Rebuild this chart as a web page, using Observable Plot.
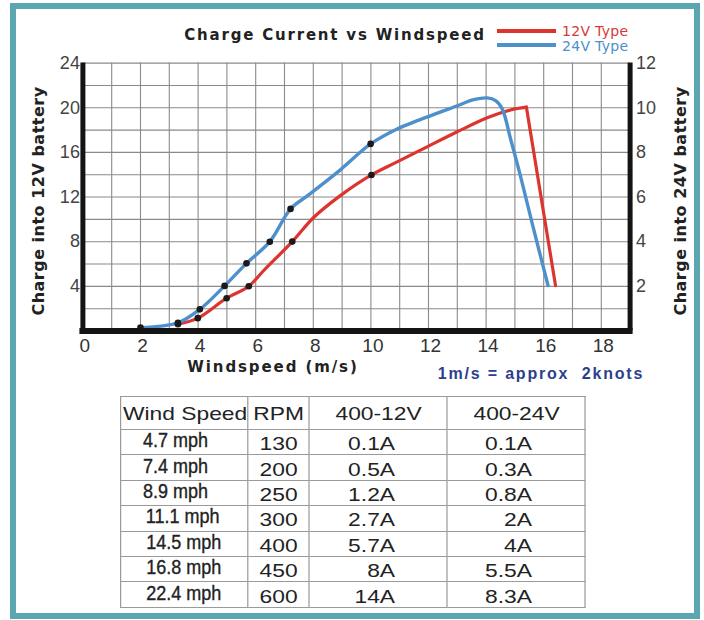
<!DOCTYPE html>
<html>
<head>
<meta charset="utf-8">
<script src="https://cdn.jsdelivr.net/npm/d3@7"></script>
<script src="https://cdn.jsdelivr.net/npm/@observablehq/plot@0.6"></script>
<style>
  html, body { margin: 0; padding: 0; background: #fff; }
  body { width: 704px; height: 620px; position: relative; overflow: hidden; }
  #chart { position: absolute; left: 0; top: 0; }
  .frame { position: absolute; left: 10px; top: 3px; width: 690px; height: 616px; box-sizing: border-box;
           border: 6px solid #5ba6b0; z-index: 5; pointer-events: none; }
  .txt { position: absolute; white-space: nowrap; transform: translate(-50%, -50%); z-index: 3; }
  .comic { font-family: "DejaVu Sans", sans-serif; color: #222; }
  .title { left: 335px; top: 35px; font-size: 15px; font-weight: bold; letter-spacing: 1.8px; }
  .ylab { font-size: 16px; font-weight: bold; letter-spacing: 0.5px; }
  .ylab.l { left: 38px; top: 201px; transform: translate(-50%, -50%) rotate(-90deg); }
  .ylab.r { left: 680px; top: 201px; transform: translate(-50%, -50%) rotate(-90deg); }
  .xlab { left: 273px; top: 367px; font-size: 15px; font-weight: bold; letter-spacing: 1.9px; }
  .note { left: 541px; top: 374px; font-family: "Liberation Sans", Arial, sans-serif; font-size: 16px;
          font-weight: bold; color: #2c3f8e; letter-spacing: 1.8px; }
  .legline { position: absolute; left: 497px; width: 59px; height: 4px; z-index: 3; }
  .legtxt { position: absolute; left: 562px; font-family: "DejaVu Sans", sans-serif; font-size: 14px;
            transform: translateY(-50%); z-index: 3; white-space: nowrap; letter-spacing: 0.3px; }
  .tablewrap { position: absolute; left: 120px; top: 396px; transform: scaleX(1.2); transform-origin: 0 0; z-index: 3; }
  table { border-collapse: collapse; table-layout: fixed; width: 387.5px;
          font-family: "Liberation Sans", Arial, sans-serif; color: #222; }
  td { border: 1px solid #9a9a9a; padding: 0; height: 25.4px; font-size: 19px; line-height: 19px;
       vertical-align: middle; overflow: visible; white-space: nowrap; box-sizing: border-box; }
  tr.head td { height: 33px; }
  td.c0 { text-align: right; padding-right: 40px; padding-bottom: 3px; font-size: 20px; }
  td.c0 span { display: inline-block; transform: scaleX(0.75); transform-origin: 100% 50%;
               -webkit-text-stroke: 0.35px #222; }
  tr.head td.c0 { text-align: left; padding-left: 1.5px; padding-right: 0; padding-bottom: 0; font-size: 19px; }
  tr.head td.c0 span { transform: none; -webkit-text-stroke: 0; }
  td.c1 { text-align: center; padding-top: 3px; }
  td.c2 { text-align: right; padding-right: 43.3px; padding-top: 3px; }
  td.c3 { text-align: right; padding-right: 44.2px; padding-top: 3px; }
  tr.head td.c1, tr.head td.c2, tr.head td.c3 { text-align: center; padding-right: 0; padding-top: 0; }
</style>
</head>
<body>
<div class="frame"></div>
<div id="chart"></div>
<div class="txt comic title">Charge Current vs Windspeed</div>
<div class="legline" style="top:29px;background:#dc3530"></div>
<div class="legline" style="top:43px;background:#4e90cb"></div>
<div class="legtxt" style="top:31px;color:#d6393a">12V Type</div>
<div class="legtxt" style="top:46px;color:#4e90cb">24V Type</div>
<div class="txt comic ylab l">Charge into 12V battery</div>
<div class="txt comic ylab r">Charge into 24V battery</div>
<div class="txt comic xlab">Windspeed (m/s)</div>
<div class="txt note">1m/s = approx&nbsp; 2knots</div>
<div class="tablewrap"><table id="tbl">
  <colgroup><col style="width:105.83px"><col style="width:51.67px"><col style="width:115px"><col style="width:115px"></colgroup>
</table></div>

<script>
// ---- chart data ----
// 12V type: charge current (A) on the left axis (0-24)
const red12Speed = [3.30, 3.99, 4.99, 5.76, 6.28, 7.27, 8.02, 8.94, 10.02, 10.91, 11.95, 13.00, 14.04, 14.85, 15.40, 16.41];
const red12Amps  = [0.60, 1.15, 2.94, 4.01, 5.42, 8.01, 10.19, 12.13, 13.98, 15.15, 16.50, 17.85, 19.10, 19.80, 20.05, 4.07];
// 24V type: charge current (A) on the right axis (0-12)
const blue24Speed = [2.00, 3.30, 4.06, 4.92, 5.68, 6.49, 7.21, 7.79, 8.94, 9.99, 10.91, 11.61, 13.00, 13.57, 14.04, 14.33, 14.56, 14.85, 15.19, 15.62, 16.15];
const blue24Amps  = [0.15, 0.37, 0.97, 2.02, 3.03, 4.00, 5.47, 6.05, 7.22, 8.38, 9.05, 9.42, 10.09, 10.36, 10.44, 10.32, 9.95, 8.60, 6.96, 4.72, 2.04];
// measured points (black dots)
const red12DotSpeed = [3.30, 3.99, 4.99, 5.76, 7.27, 10.02];
const red12DotAmps  = [0.60, 1.15, 2.94, 4.01, 8.01, 13.98];
const blue24DotSpeed = [2.00, 3.30, 4.06, 4.92, 5.68, 6.49, 7.21, 9.99];
const blue24DotAmps  = [0.15, 0.37, 0.97, 2.02, 3.03, 4.00, 5.47, 8.38];
// axis ticks
const xTicks = [0, 2, 4, 6, 8, 10, 12, 14, 16, 18];
const leftTicks = [4, 8, 12, 16, 20, 24];
const rightTicks = [2, 4, 6, 8, 10, 12];

// ---- table data ----
const tableHeader = ["Wind Speed", "RPM", "400-12V", "400-24V"];
const tableWind = ["4.7 mph", "7.4 mph", "8.9 mph", "11.1 mph", "14.5 mph", "16.8 mph", "22.4 mph"];
const tableRpm = ["130", "200", "250", "300", "400", "450", "600"];
const table12V = ["0.1A", "0.5A", "1.2A", "2.7A", "5.7A", "8A", "14A"];
const table24V = ["0.1A", "0.3A", "0.8A", "2A", "4A", "5.5A", "8.3A"];

const red12 = red12Speed.map((x, i) => ({x, y: red12Amps[i]}));
const blue24 = blue24Speed.map((x, i) => ({x, a: blue24Amps[i]}));
const redDots = red12DotSpeed.map((x, i) => ({x, y: red12DotAmps[i]}));
const blueDots = blue24DotSpeed.map((x, i) => ({x, a: blue24DotAmps[i]}));
const rightScale = 24 / 12; // right axis (0-12) against left axis (0-24)

const tickFont = {fontSize: 19, fill: "#333"};
const chart = Plot.plot({
  width: 704, height: 390,
  marginLeft: 82.4, marginRight: 74.4, marginTop: 62.6, marginBottom: 59.5,
  x: {domain: [0, 19]},
  y: {domain: [0, 24]},
  style: {background: "transparent", fontFamily: "'Liberation Sans', Arial, sans-serif", overflow: "visible"},
  marks: [
    Plot.gridX(d3.range(1, 19), {stroke: "#8a8a8a", strokeOpacity: 1, strokeWidth: 1.1}),
    Plot.gridY(d3.range(2, 25, 2), {stroke: "#8a8a8a", strokeOpacity: 1, strokeWidth: 1.1}),
    Plot.axisX(xTicks, {tickSize: 0, tickPadding: 7, label: null, ...tickFont, dx: 2}),
    Plot.axisY(leftTicks, {anchor: "left", tickSize: 0, tickPadding: 3, label: null, ...tickFont, fontSize: 18, fill: "#444"}),
    Plot.axisY(rightTicks.map(v => v * rightScale), {anchor: "right", tickSize: 0, tickPadding: 6, label: null,
      tickFormat: d => d / rightScale, ...tickFont, fontSize: 18, fill: "#444"}),
    Plot.line(red12.slice(0, -1), {x: "x", y: "y", stroke: "#dc3530", strokeWidth: 3.2, curve: "catmull-rom"}),
    Plot.line(red12.slice(-2), {x: "x", y: "y", stroke: "#dc3530", strokeWidth: 3.2}),
    Plot.line(blue24, {x: "x", y: d => d.a * rightScale, stroke: "#4e90cb", strokeWidth: 3.4, curve: "catmull-rom"}),
    Plot.dot(redDots, {x: "x", y: "y", r: 3.3, fill: "#1a1a1a"}),
    Plot.dot(blueDots, {x: "x", y: d => d.a * rightScale, r: 3.3, fill: "#1a1a1a"}),
    Plot.ruleX([0, 19], {stroke: "#141414", strokeWidth: 5}),
    Plot.ruleY([0], {stroke: "#141414", strokeWidth: 6, strokeLinecap: "square"})
  ]
});
document.getElementById("chart").appendChild(chart);

// ---- table ----
const tbl = document.getElementById("tbl");
const rows = [tableHeader].concat(tableWind.map((w, i) => [w, tableRpm[i], table12V[i], table24V[i]]));
rows.forEach((r, ri) => {
  const tr = document.createElement("tr");
  if (ri === 0) tr.className = "head";
  r.forEach((v, ci) => {
    const td = document.createElement("td");
    td.className = "c" + ci;
    const sp = document.createElement("span");
    sp.textContent = v;
    td.appendChild(sp);
    tr.appendChild(td);
  });
  tbl.appendChild(tr);
});
</script>
</body>
</html>
